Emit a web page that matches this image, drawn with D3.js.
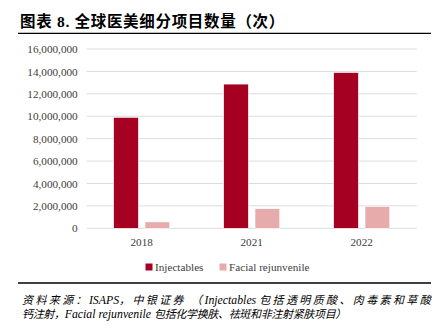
<!DOCTYPE html>
<html><head><meta charset="utf-8">
<script src="https://cdn.jsdelivr.net/npm/d3@7"></script>
<style>body{margin:0;background:#fff}svg{display:block}</style>
</head><body>
<svg id="c" width="440" height="329"></svg>
<script>
const categories = ["2018", "2021", "2022"];
const seriesNames = ["Injectables", "Facial rejunvenile"];
const injectables = [9900000, 12870000, 13900000];
const facial = [570000, 1750000, 1960000];
const yTicks = [0, 2000000, 4000000, 6000000, 8000000, 10000000, 12000000, 14000000, 16000000];
const colors = ["#A50021", "#E8ABAB"];
const titleText = "图表 8. 全球医美细分项目数量（次）";
const noteLines = ["资料来源：ISAPS，中银证券 （Injectables 包括透明质酸、肉毒素和草酸",
                   "钙注射，Facial rejunvenile 包括化学换肤、祛斑和非注射紧肤项目）"];

const svg = d3.select("#c");
const serif = "'Liberation Serif','Times New Roman',serif";
const cjk = "'Liberation Serif','Noto Sans CJK SC',serif";

// title
const title = svg.append("text").attr("x", 20).attr("y", 27)
  .attr("font-family", cjk).attr("font-weight", "bold").attr("font-size", 15.5)
  .attr("fill", "#000").text(titleText);
{
  const nat = title.node().getComputedTextLength();
  title.attr("letter-spacing", (265 - nat) / titleText.length);
}
svg.append("line").attr("x1", 18).attr("x2", 431).attr("y1", 33.3).attr("y2", 33.3)
  .attr("stroke", "#000").attr("stroke-width", 1.3);

const L = 86.7, R = 416.7, T = 49, B = 228.3;
const y = d3.scaleLinear().domain([0, 16000000]).range([B, T]);
const x0 = d3.scaleBand().domain(categories).range([L, R]).paddingInner(0.49).paddingOuter(0.245);
const x1 = d3.scaleBand().domain(seriesNames).range([0, x0.bandwidth()]).paddingInner(0.21);

// grid
svg.append("g").selectAll("line").data(yTicks).join("line")
  .attr("x1", L).attr("x2", R).attr("y1", d => y(d)).attr("y2", d => y(d))
  .attr("stroke", "#DCDCDC").attr("stroke-width", 1);

// y axis labels
const yAxis = d3.axisLeft(y).tickValues(yTicks).tickFormat(d3.format(",")).tickSize(0).tickPadding(0);
const ga = svg.append("g").attr("transform", `translate(${L - 9},0)`).call(yAxis);
ga.select(".domain").remove();
ga.selectAll("text").attr("font-family", serif).attr("font-size", 11.2).attr("fill", "#404040");

// bars
const data = categories.map((c, i) => ({c, vals: [injectables[i], facial[i]]}));
const g = svg.append("g");
data.forEach(d => {
  d.vals.forEach((v, j) => {
    g.append("rect")
      .attr("x", x0(d.c) + x1(seriesNames[j]))
      .attr("y", y(v)).attr("width", x1.bandwidth()).attr("height", B - y(v))
      .attr("fill", colors[j]).attr("stroke", "#fff").attr("stroke-width", 0.6);
  });
});

// x axis labels
const xAxis = d3.axisBottom(x0).tickSize(0).tickPadding(0);
const gx = svg.append("g").attr("transform", `translate(0,${B + 10})`).call(xAxis);
gx.select(".domain").remove();
gx.selectAll("text").attr("font-family", serif).attr("font-size", 11.2).attr("fill", "#404040");

// legend
const leg = svg.append("g");
const legX = [145.5, 219.5];
seriesNames.forEach((n, j) => {
  leg.append("rect").attr("x", legX[j]).attr("y", 263.5).attr("width", 7).attr("height", 7).attr("fill", colors[j]);
  leg.append("text").attr("x", legX[j] + 9.5).attr("y", 270.5)
    .attr("font-family", serif).attr("font-size", 11.2).attr("fill", "#404040").text(n);
});

// note
svg.append("line").attr("x1", 18).attr("x2", 431).attr("y1", 283).attr("y2", 283)
  .attr("stroke", "#000").attr("stroke-width", 1.3);
const noteLen = [411, 324];
noteLines.forEach((t, i) => {
  const txt = svg.append("text").attr("x", 22).attr("y", 303.5 + i * 14)
    .attr("font-family", cjk).attr("font-style", "italic").attr("font-size", 11)
    .attr("fill", "#000");
  const runs = t.match(/[A-Za-z ]+|[^A-Za-z ]+/g);
  const spans = runs.map(r => txt.append("tspan").text(r).datum(/[A-Za-z]/.test(r))
    .attr("font-size", /[A-Za-z]/.test(r) ? 11.8 : 11));
  const natural = txt.node().getComputedTextLength();
  const nCjk = runs.filter(r => !/[A-Za-z]/.test(r)).join("").length;
  const extra = (noteLen[i] - natural) / nCjk;
  spans.forEach(s => { if (!s.datum()) s.attr("letter-spacing", extra); });
});
</script>
</body></html>
